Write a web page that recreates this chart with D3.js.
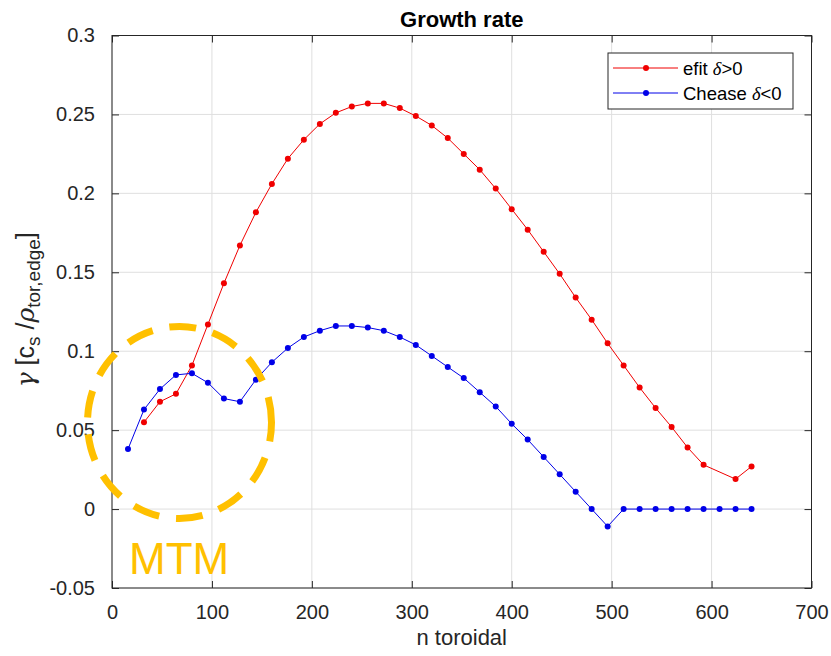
<!DOCTYPE html>
<html>
<head>
<meta charset="utf-8">
<script src="https://cdn.jsdelivr.net/npm/d3@7"></script>
<style>
  html, body { margin: 0; padding: 0; background: #ffffff; }
  svg { display: block; font-family: "Liberation Sans", Arial, Helvetica, sans-serif; }
</style>
</head>
<body>
<svg id="chart" width="831" height="656"></svg>
<script>
// Toroidal mode numbers and growth rates for the two equilibria
const nEfit = [32, 48, 64, 80, 96, 112, 128, 144, 160, 176, 192, 208, 224, 240, 256, 272,
  288, 304, 320, 336, 352, 368, 384, 400, 416, 432, 448, 464, 480, 496, 512, 528, 544,
  560, 576, 592, 624, 640];
const gammaEfit = [0.055, 0.068, 0.073, 0.091, 0.117, 0.143, 0.167, 0.188, 0.206, 0.222,
  0.234, 0.244, 0.251, 0.255, 0.257, 0.257, 0.254, 0.249, 0.243, 0.235, 0.225, 0.215,
  0.203, 0.190, 0.177, 0.163, 0.149, 0.134, 0.120, 0.105, 0.091, 0.077, 0.064, 0.052,
  0.039, 0.028, 0.019, 0.027];

const nChease = [16, 32, 48, 64, 80, 96, 112, 128, 144, 160, 176, 192, 208, 224, 240, 256,
  272, 288, 304, 320, 336, 352, 368, 384, 400, 416, 432, 448, 464, 480, 496, 512, 528,
  544, 560, 576, 592, 608, 624, 640];
const gammaChease = [0.038, 0.063, 0.076, 0.085, 0.086, 0.080, 0.070, 0.068, 0.082, 0.093,
  0.102, 0.109, 0.113, 0.116, 0.116, 0.115, 0.113, 0.109, 0.104, 0.097, 0.090, 0.083,
  0.074, 0.065, 0.054, 0.044, 0.033, 0.022, 0.011, 0.000, -0.011, 0, 0, 0, 0, 0, 0, 0, 0, 0];

const xTicks = [0, 100, 200, 300, 400, 500, 600, 700];
const xTickLabels = ["0", "100", "200", "300", "400", "500", "600", "700"];
const yTicks = [-0.05, 0, 0.05, 0.1, 0.15, 0.2, 0.25, 0.3];
const yTickLabels = ["-0.05", "0", "0.05", "0.1", "0.15", "0.2", "0.25", "0.3"];

const seriesNames = ["efit", "Chease"];
const seriesSigns = [">0", "<0"];

const svg = d3.select("#chart");
svg.append("rect").attr("width", 831).attr("height", 656).attr("fill", "#ffffff");

const plot = { left: 112, right: 811.5, top: 35.5, bottom: 588 };
const x = d3.scaleLinear().domain([0, 700]).range([plot.left, plot.right]);
const y = d3.scaleLinear().domain([-0.05, 0.3]).range([plot.bottom, plot.top]);

const axisColor = "#262626";
const gridColor = "#dfdfdf";
const tickLen = 7;

// grid
const grid = svg.append("g");
grid.selectAll("line.gx").data(xTicks).join("line")
  .attr("x1", d => x(d)).attr("x2", d => x(d))
  .attr("y1", plot.top).attr("y2", plot.bottom)
  .attr("stroke", gridColor).attr("stroke-width", 1);
grid.selectAll("line.gy").data(yTicks).join("line")
  .attr("x1", plot.left).attr("x2", plot.right)
  .attr("y1", d => y(d)).attr("y2", d => y(d))
  .attr("stroke", gridColor).attr("stroke-width", 1);

// axes: ticks point inward on all four sides
const axisFont = 20;
const bottomAxis = d3.axisBottom(x).tickValues(xTicks)
  .tickFormat((d, i) => xTickLabels[i]).tickSizeInner(-tickLen).tickSizeOuter(0).tickPadding(17);
const leftAxis = d3.axisLeft(y).tickValues(yTicks)
  .tickFormat((d, i) => yTickLabels[i]).tickSizeInner(-tickLen).tickSizeOuter(0).tickPadding(17);
const topAxis = d3.axisTop(x).tickValues(xTicks).tickFormat("").tickSizeInner(-tickLen).tickSizeOuter(0);
const rightAxis = d3.axisRight(y).tickValues(yTicks).tickFormat("").tickSizeInner(-tickLen).tickSizeOuter(0);

function styleAxis(g) {
  g.select(".domain").remove();
  g.selectAll(".tick line").attr("stroke", axisColor);
  g.selectAll(".tick text").attr("fill", axisColor)
    .style("font-size", axisFont + "px")
    .style("font-family", "'Liberation Sans', Arial, sans-serif");
}
svg.append("g").attr("transform", `translate(0,${plot.bottom})`).call(bottomAxis).call(styleAxis);
svg.append("g").attr("transform", `translate(${plot.left},0)`).call(leftAxis).call(styleAxis);
svg.append("g").attr("transform", `translate(0,${plot.top})`).call(topAxis).call(styleAxis);
svg.append("g").attr("transform", `translate(${plot.right},0)`).call(rightAxis).call(styleAxis);

svg.append("rect")
  .attr("x", plot.left).attr("y", plot.top)
  .attr("width", plot.right - plot.left).attr("height", plot.bottom - plot.top)
  .attr("fill", "none").attr("stroke", axisColor).attr("stroke-width", 1);

// data series
const colors = ["#f00000", "#0000e8"];
const series = [
  { n: nEfit, g: gammaEfit, color: colors[0] },
  { n: nChease, g: gammaChease, color: colors[1] }
];
const line = d3.line().x(d => x(d[0])).y(d => y(d[1]));
series.forEach(s => {
  const pts = s.n.map((n, i) => [n, s.g[i]]);
  svg.append("path").datum(pts)
    .attr("d", line).attr("fill", "none")
    .attr("stroke", s.color).attr("stroke-width", 1);
  svg.append("g").selectAll("circle").data(pts).join("circle")
    .attr("cx", d => x(d[0])).attr("cy", d => y(d[1])).attr("r", 3)
    .attr("fill", s.color);
});

// title and axis labels
svg.append("text").attr("x", (plot.left + plot.right) / 2).attr("y", 27)
  .attr("text-anchor", "middle").attr("font-weight", "bold")
  .attr("font-size", 22).attr("fill", "#000000").text("Growth rate");

svg.append("text").attr("x", (plot.left + plot.right) / 2).attr("y", 645)
  .attr("text-anchor", "middle").attr("font-size", 22).attr("fill", axisColor)
  .text("n toroidal");

const yl = svg.append("text")
  .attr("transform", `translate(34,${(plot.top + plot.bottom) / 2 - 2}) rotate(-90)`)
  .attr("text-anchor", "middle").attr("font-size", 25).attr("fill", axisColor);
yl.append("tspan").attr("font-family", "'DejaVu Serif', 'Liberation Serif', serif")
  .attr("font-style", "italic").text("γ");
yl.append("tspan").text(" [c");
yl.append("tspan").attr("font-size", 19).attr("dy", 6).text("s");
yl.append("tspan").attr("dy", -6).text(" /");
yl.append("tspan").attr("font-family", "'DejaVu Serif', 'Liberation Serif', serif")
  .attr("font-style", "italic").text("ρ");
yl.append("tspan").attr("font-size", 19).attr("dy", 6).text("tor,edge");
yl.append("tspan").attr("dy", -6).text("]");

// legend
const legend = svg.append("g");
legend.append("rect").attr("x", 608).attr("y", 53).attr("width", 185).attr("height", 56)
  .attr("fill", "#ffffff").attr("stroke", axisColor).attr("stroke-width", 1);
series.forEach((s, i) => {
  const ly = 68 + i * 25;
  legend.append("line").attr("x1", 613).attr("x2", 678).attr("y1", ly).attr("y2", ly)
    .attr("stroke", s.color).attr("stroke-width", 1);
  legend.append("circle").attr("cx", 646).attr("cy", ly).attr("r", 3).attr("fill", s.color);
  const t = legend.append("text").attr("x", 683).attr("y", ly + 6.5)
    .attr("font-size", 18.5).attr("fill", "#000000");
  t.append("tspan").text(seriesNames[i] + " ");
  t.append("tspan").attr("font-family", "'Liberation Serif', 'DejaVu Serif', serif")
    .attr("font-style", "italic").text("δ");
  t.append("tspan").text(seriesSigns[i]);
});

// MTM annotation: dashed ring around the low-n region
const gold = "#ffc000";
svg.append("ellipse").attr("cx", 179.5).attr("cy", 422.5).attr("rx", 92).attr("ry", 96)
  .attr("fill", "none").attr("stroke", gold).attr("stroke-width", 7)
  .attr("stroke-dasharray", "27 17").attr("stroke-dashoffset", 8);
svg.append("text").attr("x", 129).attr("y", 574).attr("font-size", 44)
  .attr("fill", gold).text("MTM");
</script>
</body>
</html>
